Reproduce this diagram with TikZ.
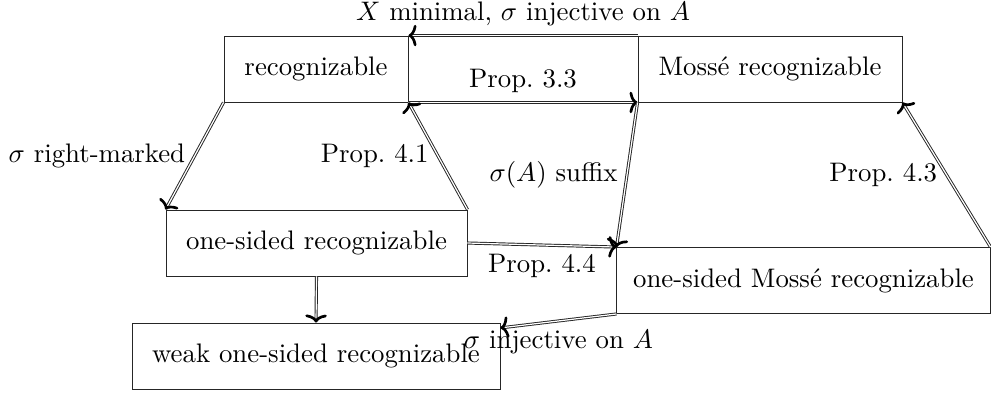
\documentclass[tikz,border=0pt]{standalone}
\usetikzlibrary{arrows.meta}
\begin{document}
\begin{tikzpicture}[x=0.3731pt,y=-0.3731pt,
  box/.style={draw=black!85, line width=0.35pt, rectangle, inner sep=0pt, minimum height=24.62pt},
  imp/.style={double, double distance=0.45pt, line width=0.35pt, draw=black!85, -{To[length=3pt,width=8pt,line width=1pt,black]}},
  lbl/.style={inner sep=3.33pt}]
\useasboundingbox (0,0) rectangle (991,392);
\node[box, minimum width=68.65pt] (R) at (316,69) {recognizable};
\node[box, minimum width=98.5pt] (M) at (770,69) {Mossé recognizable};
\node[box, minimum width=112.3pt] (OR) at (316.5,243) {one-sided recognizable};
\node[box, minimum width=139.2pt] (OM) at (803.5,280.5) {one-sided Mossé recognizable};
\node[box, minimum width=137.3pt] (W) at (316,356) {weak one-sided recognizable};

\draw[imp] (M.north west) -- node[lbl, midway, above] {$X$ minimal, $\sigma$ injective on $A$} (R.north east);
\draw[imp] (R.south east) -- node[lbl, midway, above] {Prop.~3.3} (M.south west);
\draw[imp] (R.south west) -- node[lbl, midway, left] {$\sigma$ right-marked} (OR.north west);
\draw[imp] (OR.north east) -- node[lbl, midway, left] {Prop.~4.1} (R.south east);
\draw[imp] (M.south west) -- node[lbl, midway, left] {$\sigma(A)$ suffix} (OM.north west);
\draw[imp] (OR.east) -- node[lbl, midway, below] {Prop.~4.4} (OM.north west);
\draw[imp] (OM.north east) -- node[lbl, midway, left] {Prop.~4.3} (M.south east);
\draw[imp] (OM.south west) -- node[lbl, midway, below, xshift=0pt] {$\sigma$ injective on $A$} ([yshift=-2pt]W.north east);
\draw[imp] (OR.south) -- (W.north);
\end{tikzpicture}
\end{document}
